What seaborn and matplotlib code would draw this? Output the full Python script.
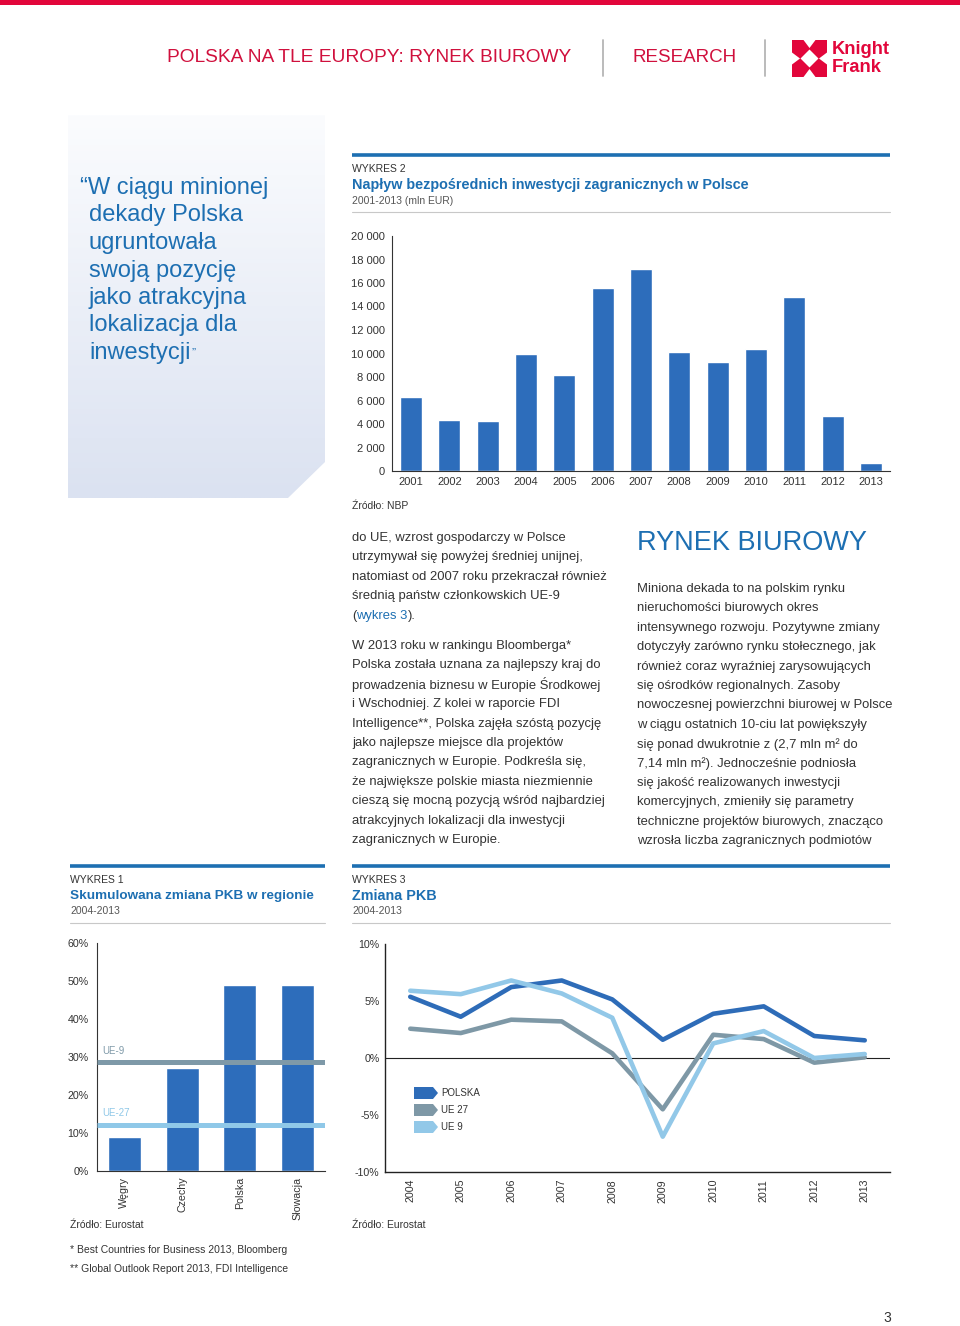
import numpy as np
import pandas as pd
import matplotlib
matplotlib.use('Agg')
import matplotlib.pyplot as plt
import seaborn as sns
from matplotlib import font_manager
from matplotlib.patches import Rectangle, Polygon
from matplotlib.colors import LinearSegmentedColormap

# Data
fdi_years = ['2001', '2002', '2003', '2004', '2005', '2006', '2007',
             '2008', '2009', '2010', '2011', '2012', '2013']
fdi_values = [6300, 4300, 4250, 9950, 8200, 15550, 17200,
              10100, 9300, 10400, 14800, 4650, 650]

countries = ['Węgry', 'Czechy', 'Polska', 'Słowacja']
pkb_cum = [9.0, 27.0, 49.0, 49.0]
ue9_cum = 28.7
ue27_cum = 12.1

gdp_years = ['2004', '2005', '2006', '2007', '2008',
             '2009', '2010', '2011', '2012', '2013']
gdp_polska = [5.37, 3.62, 6.22, 6.8, 5.14, 1.6, 3.88, 4.53, 1.93, 1.55]
gdp_ue27 = [2.57, 2.19, 3.36, 3.21, 0.41, -4.5, 2.04, 1.66, -0.41, 0.06]
gdp_ue9 = [5.9, 5.6, 6.8, 5.66, 3.53, -6.9, 1.28, 2.36, 0.0, 0.35]

left_col = [
    "do UE, wzrost gospodarczy w Polsce",
    "utrzymywał się powyżej średniej unijnej,",
    "natomiast od 2007 roku przekraczał również",
    "średnią państw członkowskich UE-9",
]
left_col2 = [
    "W 2013 roku w rankingu Bloomberga*",
    "Polska została uznana za najlepszy kraj do",
    "prowadzenia biznesu w Europie Środkowej",
    "i Wschodniej. Z kolei w raporcie FDI",
    "Intelligence**, Polska zajęła szóstą pozycję",
    "jako najlepsze miejsce dla projektów",
    "zagranicznych w Europie. Podkreśla się,",
    "że największe polskie miasta niezmiennie",
    "cieszą się mocną pozycją wśród najbardziej",
    "atrakcyjnych lokalizacji dla inwestycji",
    "zagranicznych w Europie.",
]
right_col = [
    "Miniona dekada to na polskim rynku",
    "nieruchomości biurowych okres",
    "intensywnego rozwoju. Pozytywne zmiany",
    "dotyczyły zarówno rynku stołecznego, jak",
    "również coraz wyraźniej zarysowujących",
    "się ośrodków regionalnych. Zasoby",
    "nowoczesnej powierzchni biurowej w Polsce",
    "w ciągu ostatnich 10-ciu lat powiększyły",
    "się ponad dwukrotnie z (2,7 mln m² do",
    "7,14 mln m²). Jednocześnie podniosła",
    "się jakość realizowanych inwestycji",
    "komercyjnych, zmieniły się parametry",
    "techniczne projektów biurowych, znacząco",
    "wzrosła liczba zagranicznych podmiotów",
]
quote_lines = ["W ciągu minionej", "dekady Polska", "ugruntowała",
               "swoją pozycję", "jako atrakcyjna", "lokalizacja dla",
               "inwestycji"]

# Style
sns.set_theme(style='white')
plt.rcParams['font.family'] = ['Liberation Sans', 'DejaVu Sans']
names = {f.name for f in font_manager.fontManager.ttflist}
NARROW = 'Liberation Sans Narrow' if 'Liberation Sans Narrow' in names else 'Liberation Sans'

RED = '#e2063b'
HEAD = '#d0103d'
BLUE = '#1d6fb2'
BAR = '#2d6dbb'
DARK = '#333333'
BODY = '#333333'
GRAYLINE = '#7e99a8'
LIGHTLINE = '#8fc8e8'

W, H = 960, 1326
fig = plt.figure(figsize=(W / 100, H / 100), dpi=100)
fig.patch.set_facecolor('white')

page = fig.add_axes([0, 0, 1, 1])
page.set_zorder(0)


def px_axes(x0, y0, x1, y1):
    a = fig.add_axes([x0 / W, 1 - y1 / H, (x1 - x0) / W, (y1 - y0) / H])
    a.set_facecolor('none')
    a.set_zorder(2)
    return a


# quote panel with gradient
grad = np.linspace(0, 1, 256).reshape(-1, 1)
cmap = LinearSegmentedColormap.from_list('panel', ['#fbfcfe', '#dbe2f1'])
im = page.imshow(grad, cmap=cmap, extent=[68, 325, 498, 115], aspect='auto', zorder=0)
clip = Polygon([(68, 115), (325, 115), (325, 462), (288, 498), (68, 498)],
               closed=True, transform=page.transData)
im.set_clip_path(clip)

page.set_xlim(0, W)
page.set_ylim(H, 0)
page.axis('off')

# header
page.add_patch(Rectangle((0, 0), W, 5, color=RED, lw=0))
page.text(167, 58, "POLSKA NA TLE EUROPY: RYNEK BIUROWY", family=NARROW,
          fontsize=15.5 if NARROW != 'Liberation Sans' else 13.8, color=HEAD, va='center')
page.text(632, 58, "RESEARCH", family=NARROW,
          fontsize=15.5 if NARROW != 'Liberation Sans' else 13.5, color=HEAD, va='center')
page.plot([603, 603], [40, 76], color='#b5b5b5', lw=1.3)
page.plot([765, 765], [40, 76], color='#b5b5b5', lw=1.3)

# logo
lx0, ly0, lx1, ly1 = 792, 40, 827, 77
cx, cy = (lx0 + lx1) / 2, (ly0 + ly1) / 2
page.add_patch(Rectangle((lx0, ly0), lx1 - lx0, ly1 - ly0, color=RED, lw=0))
page.add_patch(Polygon([(cx, cy - 9), (cx + 9, cy), (cx, cy + 9), (cx - 9, cy)], color='white', lw=0))
page.add_patch(Polygon([(cx - 6, ly0), (cx + 6, ly0), (cx, ly0 + 8)], color='white', lw=0))
page.add_patch(Polygon([(cx - 6, ly1), (cx + 6, ly1), (cx, ly1 - 8)], color='white', lw=0))
page.add_patch(Polygon([(lx0, cy - 6), (lx0, cy + 6), (lx0 + 8, cy)], color='white', lw=0))
page.add_patch(Polygon([(lx1, cy - 6), (lx1, cy + 6), (lx1 - 8, cy)], color='white', lw=0))
page.text(832, 49, "Knight", family=NARROW, weight='bold', fontsize=13.2, color=RED, va='center')
page.text(832, 68, "Frank", family=NARROW, weight='bold', fontsize=13.2, color=RED, va='center')

# quote
renderer = fig.canvas.get_renderer()
qy = 188
for i, line in enumerate(quote_lines):
    if i == 0:
        t = page.text(80, qy, "\u201c" + line, fontsize=17, color=BLUE, va='center')
    else:
        t = page.text(89, qy + i * 27.5, line, fontsize=17, color=BLUE, va='center')
bb = t.get_window_extent(renderer=renderer)
page.text(89 + bb.width + 1, qy + 6 * 27.5 + 1, "\u201d", fontsize=9, color=BLUE, va='center')


def chart_header(x0, x1, top, label, title, sub, title_size=10.4):
    page.plot([x0, x1], [top, top], color=BLUE, lw=2.6, solid_capstyle='butt')
    page.text(x0, top + 14, label, fontsize=7.5, color=DARK, va='center')
    page.text(x0, top + 30.5, title, fontsize=title_size, weight='bold', color=BLUE, va='center')
    page.text(x0, top + 45.5, sub, fontsize=7.5, color='#555555', va='center')
    page.plot([x0, x1], [top + 56.5, top + 56.5], color='#c8c8c8', lw=0.8)


chart_header(352, 890, 155, "WYKRES 2",
             "Napływ bezpośrednich inwestycji zagranicznych w Polsce",
             "2001-2013 (mln EUR)")
chart_header(70, 325, 866, "WYKRES 1", "Skumulowana zmiana PKB w regionie", "2004-2013",
             title_size=9.7)
chart_header(352, 890, 866, "WYKRES 3", "Zmiana PKB", "2004-2013")

page.text(352, 506, "Źródło: NBP", fontsize=7.5, color=DARK, va='center')
page.text(70, 1225, "Źródło: Eurostat", fontsize=7.5, color=DARK, va='center')
page.text(352, 1225, "Źródło: Eurostat", fontsize=7.5, color=DARK, va='center')
page.text(70, 1250, "* Best Countries for Business 2013, Bloomberg", fontsize=7.5, color=DARK, va='center')
page.text(70, 1269, "** Global Outlook Report 2013, FDI Intelligence", fontsize=7.5, color=DARK, va='center')
page.text(887, 1318, "3", fontsize=10, color=DARK, va='center', ha='center')

# body text
LS = 19.4
FS = 9.35
for i, line in enumerate(left_col):
    page.text(352, 538 + i * LS, line, fontsize=FS, color=BODY, va='center')
x = 352
for s, c in [("(", BODY), ("wykres 3", BLUE), (").", BODY)]:
    t = page.text(x, 538 + 4 * LS, s, fontsize=FS, color=c, va='center')
    x += t.get_window_extent(renderer=renderer).width
for i, line in enumerate(left_col2):
    page.text(352, 646 + i * LS, line, fontsize=FS, color=BODY, va='center')

page.text(637, 543, "RYNEK BIUROWY", fontsize=19.5, color=BLUE, va='center')
for i, line in enumerate(right_col):
    page.text(637, 589 + i * LS, line, fontsize=FS, color=BODY, va='center')

# WYKRES 2 - bar chart
ax2 = px_axes(392, 236, 890, 471)
sns.barplot(x=fdi_years, y=fdi_values, color=BAR, saturation=1, width=0.575, ax=ax2)
ax2.set_xlim(-0.5, 12.5)
ax2.set_ylim(0, 20000)
ax2.set_yticks(range(0, 20001, 2000))
ax2.set_yticklabels([f"{v:,}".replace(',', ' ') for v in range(0, 20001, 2000)])
ax2.set_xticks(np.arange(-0.5, 13, 1), minor=True)
ax2.tick_params(axis='y', length=0, pad=5, labelsize=8, labelcolor=DARK)
ax2.tick_params(axis='x', which='major', length=0, pad=4, labelsize=8, labelcolor=DARK)
ax2.tick_params(axis='x', which='minor', length=3, width=0.8, color=DARK, direction='out')
for s in ['top', 'right']:
    ax2.spines[s].set_visible(False)
for s in ['left', 'bottom']:
    ax2.spines[s].set_color(DARK)
    ax2.spines[s].set_linewidth(0.8)
ax2.set_xlabel('')
ax2.set_ylabel('')

# WYKRES 1 - cumulative GDP
ax1 = px_axes(97, 943, 325, 1171)
sns.barplot(x=countries, y=pkb_cum, color=BAR, saturation=1, width=0.57, ax=ax1)
ax1.set_xlim(-0.47, 3.47)
ax1.set_ylim(0, 60)
ax1.axhline(ue9_cum, color=GRAYLINE, lw=3.6, zorder=3, solid_capstyle='butt')
ax1.axhline(ue27_cum, color=LIGHTLINE, lw=3.6, zorder=3, solid_capstyle='butt')
ax1.text(-0.38, ue9_cum + 2.9, "UE-9", color=GRAYLINE, fontsize=7, va='center')
ax1.text(-0.38, ue27_cum + 3.2, "UE-27", color=LIGHTLINE, fontsize=7, va='center')
ax1.set_yticks(range(0, 61, 10))
ax1.set_yticklabels([f"{v}%" for v in range(0, 61, 10)])
ax1.set_xticks(range(len(countries)))
ax1.set_xticklabels(countries, rotation=90, va='top')
ax1.tick_params(axis='y', length=0, pad=6, labelsize=7.7, labelcolor=DARK)
ax1.tick_params(axis='x', length=0, pad=4, labelsize=7.7, labelcolor=DARK)
for s in ['top', 'right']:
    ax1.spines[s].set_visible(False)
for s in ['left', 'bottom']:
    ax1.spines[s].set_color(DARK)
    ax1.spines[s].set_linewidth(0.8)
ax1.set_xlabel('')
ax1.set_ylabel('')

# WYKRES 3 - GDP change lines
df = pd.DataFrame({
    'idx': list(range(len(gdp_years))) * 3,
    'value': gdp_ue27 + gdp_polska + gdp_ue9,
    'series': ['UE 27'] * len(gdp_years) + ['POLSKA'] * len(gdp_years) + ['UE 9'] * len(gdp_years),
})
palette = {'POLSKA': '#2e6cb8', 'UE 27': '#7e98a6', 'UE 9': '#92c8e8'}
ax3 = px_axes(385, 944, 890, 1172)
ax3.axhline(0, color='#222222', lw=0.8, zorder=1)
sns.lineplot(data=df, x='idx', y='value', hue='series', palette=palette,
             lw=3.3, legend=False, ax=ax3, zorder=3)
ax3.set_xlim(-0.5, 9.5)
ax3.set_ylim(-10, 10)
ax3.set_xticks(range(len(gdp_years)))
ax3.set_xticklabels(gdp_years, rotation=90, va='top')
ax3.set_xticks(np.arange(-0.5, 10, 1), minor=True)
ax3.set_yticks([-10, -5, 0, 5, 10])
ax3.set_yticklabels(["-10%", "-5%", "0%", "5%", "10%"])
ax3.tick_params(axis='y', length=0, pad=4, labelsize=7.7, labelcolor=DARK)
ax3.tick_params(axis='x', which='major', length=0, pad=5, labelsize=7.7, labelcolor=DARK)
ax3.tick_params(axis='x', which='minor', length=4, width=0.9, color='#222222', direction='out')
for s in ['top', 'right']:
    ax3.spines[s].set_visible(False)
for s in ['left', 'bottom']:
    ax3.spines[s].set_color('#222222')
    ax3.spines[s].set_linewidth(1.0)
ax3.set_xlabel('')
ax3.set_ylabel('')

# legend of arrow shapes
for i, name in enumerate(['POLSKA', 'UE 27', 'UE 9']):
    yy = 1093 + i * 17
    page.add_patch(Polygon([(414, yy - 6), (433, yy - 6), (438, yy), (433, yy + 6), (414, yy + 6)],
                           color=palette[name], lw=0, zorder=5))
    page.text(441, yy, name, family=NARROW, fontsize=7, color=DARK, va='center', zorder=5)

fig.savefig('out.png', dpi=100)
